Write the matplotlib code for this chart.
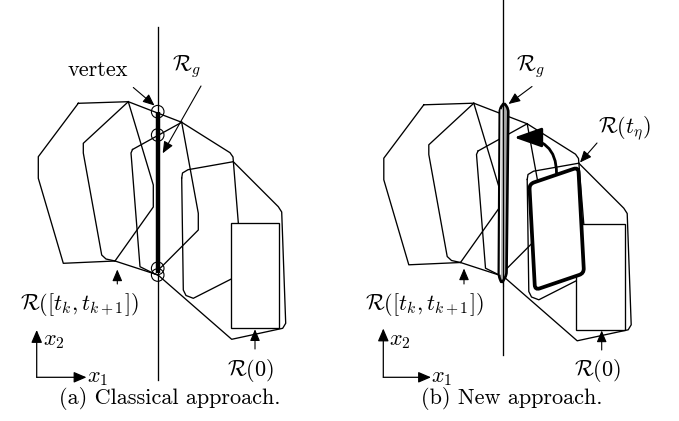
import matplotlib
matplotlib.use("Agg")
import matplotlib.pyplot as plt
from matplotlib.patches import Circle, FancyArrowPatch, PathPatch, Rectangle
from matplotlib.path import Path

plt.rcParams["mathtext.fontset"] = "cm"

W, H = 679, 421

# offset of panel (b) relative to panel (a), pixels
SHIFT_B = (345.5, 1.5)

# ---------------------------------------------------------------------------
# Geometry shared by both panels (pixel coords of panel (a))
# ---------------------------------------------------------------------------
hex_outer = [(78.3, 103.3), (128.3, 101.7), (153.3, 185), (153.3, 207),
             (115, 261), (63.3, 263.3), (38.3, 178.3), (38.3, 156.7), (78.3, 103.3)]
hex_mid_left = [(128.3, 101.7), (83.3, 143.3), (83.3, 153), (101.7, 255),
                (106, 259), (115, 261)]
bottom_a = [(115, 261), (158, 275)]
top_a = [(128.3, 101.7), (181.7, 122.3)]
env_right = [(181.7, 122.3), (230, 152.7), (233, 157), (238.3, 222.7)]
hull_r0 = [(233.3, 161.7), (278.3, 206.7), (281.7, 212), (285.7, 323.3),
           (282.7, 328.3), (231.7, 339.3), (158, 275)]
hex_in_top = [(132.5, 149.5), (181.7, 122.3)]
hex_in_left = [(132.5, 149.5), (131, 153), (140, 266.7), (153.3, 273.3), (158, 275)]
hex_in_right = [(181.7, 122.3), (198.3, 213.3), (198.3, 230), (161.7, 266.7), (158, 270)]
rt1_top = [(181.7, 178), (182.5, 173), (188, 169.7), (233.3, 161.7)]
rt1_left = [(181.7, 178), (183.3, 290), (186, 295.5), (193.3, 298.3), (230.7, 279.3)]
SHARED_LINES = [hex_outer, hex_mid_left, bottom_a, top_a, env_right, hull_r0,
                hex_in_top, hex_in_left, hex_in_right, rt1_top, rt1_left]

r0_corner = (230.7, 222.7)
r0_size = (48.6, 105.6)

# panel (a) specifics
vline_a = [(157.7, 27), (157.7, 380)]
rg_bar_a = [(157.7, 111.7), (157.7, 273)]
vertex_centres = [(157.7, 111.7), (157.7, 135), (157.7, 268.3), (157.7, 275)]
vertex_radius = 6.3

# panel (b) specifics (absolute pixel coords)
vline_b = [(503.3, 0), (503.3, 355)]
rg_shape_b = [(504, 102.5), (508.3, 109), (506.5, 275), (501.7, 283.5),
              (498.8, 276), (499.8, 109)]
rg_gap_b = [(501.1, 110), (500.4, 274)]
r_eta_b = [(529.3, 184), (578.3, 167.3), (584, 273.3), (535, 290)]
turn_arrow_b = [(556.5, 173), (514, 137.5)]

# text labels: (text, x, y, ha, va, uses cmr10 font)
LABELS = [
    ("vertex", 97.5, 76.5, "center", "baseline", True),
    (r"$\mathcal{R}_g$", 187, 67, "center", "center", False),
    (r"$\mathcal{R}([t_k,t_{k+1}])$", 79, 304, "center", "center", False),
    (r"$\mathcal{R}(0)$", 251, 371, "center", "center", False),
    (r"$x_2$", 43, 341, "left", "center", False),
    (r"$x_1$", 87, 378, "left", "center", False),
    ("(a) Classical approach.", 170, 398, "center", "center", True),
    (r"$\mathcal{R}_g$", 531, 67, "center", "center", False),
    (r"$\mathcal{R}(t_\eta)$", 625, 128, "center", "center", False),
    (r"$\mathcal{R}([t_k,t_{k+1}])$", 424, 304, "center", "center", False),
    (r"$\mathcal{R}(0)$", 598, 371, "center", "center", False),
    (r"$x_2$", 389, 341, "left", "center", False),
    (r"$x_1$", 431, 378, "left", "center", False),
    ("(b) New approach.", 512, 398, "center", "center", True),
]

# label pointers: (start, end)
POINTERS = [
    ((133.3, 87.5), (154.5, 105.5)),
    ((201, 86), (162.7, 153.3)),
    ((117.3, 284), (117.3, 269.5)),
    ((255, 349), (255, 329.3)),
    ((532, 86.5), (508.5, 104)),
    ((597, 143), (580, 162.5)),
    ((464, 284), (464, 268.5)),
    ((601.7, 350), (601.7, 330.5)),
]

# coordinate frame arrows: (origin, x tip, y tip)
FRAMES = [((36.7, 377.3), (86.5, 377.3), (36.7, 330)),
          ((383.3, 377.3), (431, 377.3), (383.3, 328.5))]

HEAD = "-|>,head_length=0.7,head_width=0.3"


def shifted(pts, dx, dy):
    return [(x + dx, y + dy) for x, y in pts]


def rounded_path(pts, r):
    """Closed path through pts with corners rounded by quadratic curves."""
    n = len(pts)
    verts, codes = [], []
    for i in range(n):
        p0, p1, p2 = pts[i - 1], pts[i], pts[(i + 1) % n]
        def towards(a, b):
            dx, dy = b[0] - a[0], b[1] - a[1]
            d = (dx * dx + dy * dy) ** 0.5
            t = min(r, d / 2) / d
            return (a[0] + dx * t, a[1] + dy * t)
        a = towards(p1, p0)
        b = towards(p1, p2)
        verts += [a, p1, b]
        codes += [Path.MOVETO if i == 0 else Path.LINETO, Path.CURVE3, Path.CURVE3]
    verts.append(verts[0])
    codes.append(Path.LINETO)
    return Path(verts, codes)


fig = plt.figure(figsize=(W / 100, H / 100), dpi=100)
ax = fig.add_axes([0, 0, 1, 1])
ax.set_xlim(0, W)
ax.set_ylim(H, 0)
ax.axis("off")

LW = 0.95

# shared shapes in both panels
for dx, dy in [(0, 0), SHIFT_B]:
    for line in SHARED_LINES:
        pts = shifted(line, dx, dy)
        ax.plot([p[0] for p in pts], [p[1] for p in pts], color="black",
                lw=LW, solid_joinstyle="round", zorder=2)
    ax.add_patch(Rectangle((r0_corner[0] + dx, r0_corner[1] + dy), *r0_size,
                           fill=False, ec="black", lw=LW, zorder=2))

# vertical guard lines
for vl in (vline_a, vline_b):
    ax.plot([vl[0][0], vl[1][0]], [vl[0][1], vl[1][1]], color="black", lw=LW, zorder=3)

# panel (a): thick guard intersection and vertex circles
ax.plot([rg_bar_a[0][0], rg_bar_a[1][0]], [rg_bar_a[0][1], rg_bar_a[1][1]],
        color="black", lw=3.2, solid_capstyle="butt", zorder=4)
for c in vertex_centres:
    ax.add_patch(Circle(c, vertex_radius, fill=False, ec="black", lw=0.8, zorder=5))

# panel (b): enclosing guard shape, rotated box and turning arrow
ax.add_patch(PathPatch(rounded_path(rg_shape_b, 3), fc="#a8a8a8", ec="black",
                       lw=1.9, zorder=4))
ax.plot([rg_gap_b[0][0], rg_gap_b[1][0]], [rg_gap_b[0][1], rg_gap_b[1][1]],
        color="white", lw=1.0, zorder=5)
ax.plot([vline_b[0][0]] * 2, [100, 286], color="black", lw=0.8, zorder=5)
ax.add_patch(PathPatch(rounded_path(r_eta_b, 5), fc="white", ec="black",
                       lw=2.7, zorder=4))
ax.add_patch(FancyArrowPatch(turn_arrow_b[0], turn_arrow_b[1],
                             connectionstyle="angle3,angleA=90,angleB=0",
                             arrowstyle="-|>,head_length=0.85,head_width=0.3",
                             mutation_scale=20, lw=2.0, color="black",
                             shrinkA=0, shrinkB=0, zorder=6))

# label pointers
for start, end in POINTERS:
    ax.annotate("", xy=end, xytext=start,
                arrowprops=dict(arrowstyle=HEAD, mutation_scale=10, lw=0.8,
                                color="black", shrinkA=0, shrinkB=0), zorder=6)

# coordinate frames
for origin, xtip, ytip in FRAMES:
    for tip in (xtip, ytip):
        ax.annotate("", xy=tip, xytext=origin,
                    arrowprops=dict(arrowstyle=HEAD, mutation_scale=11, lw=0.9,
                                    color="black", shrinkA=0, shrinkB=0))

for text, x, y, ha, va, roman in LABELS:
    kw = {"family": "cmr10"} if roman else {}
    ax.text(x, y, text, ha=ha, va=va, fontsize=16, color="black", **kw)

fig.savefig("out.png", dpi=100)
